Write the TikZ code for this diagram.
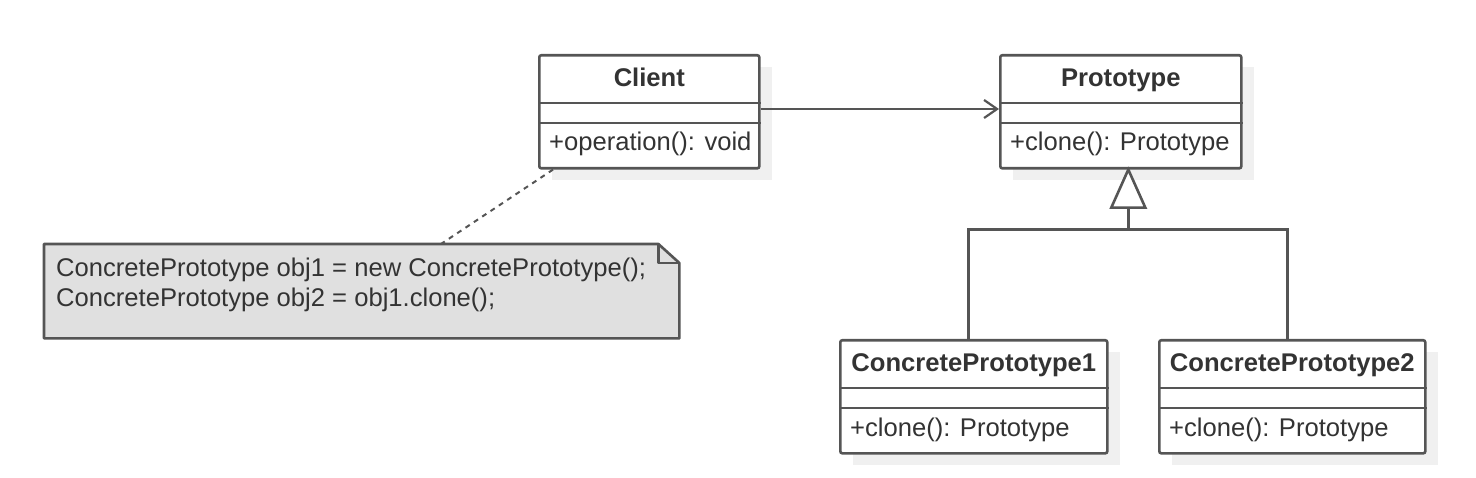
\documentclass[tikz,border=0pt]{standalone}
\usepackage{fontspec}
\setmainfont{Liberation Sans}
\usetikzlibrary{arrows.meta}
\definecolor{linec}{HTML}{555555}
\definecolor{textc}{HTML}{333333}
\definecolor{notec}{HTML}{E0E0E0}
\definecolor{shadowc}{HTML}{F0F0F0}
\tikzset{
  umlline/.style={draw=linec, line width=2.6pt},
  classbox/.style={umlline, fill=white, rounded corners=2pt, minimum height=113pt, inner sep=0pt, anchor=north west},
  titletext/.style={font=\fontsize{25.6}{30}\selectfont\bfseries, text=textc, inner sep=0pt, anchor=base},
  optext/.style={font=\fontsize{25.6}{30}\selectfont, text=textc, inner sep=0pt, anchor=base west},
  notetext/.style={font=\fontsize{25.6}{30}\selectfont, text=textc, inner sep=0pt, anchor=base west, align=left},
}
\newcommand\umlclass[6]{%
  \fill[shadowc] (#2+14,-#3-13) rectangle ++(#4,-113);
  \node[classbox, minimum width=#4 pt] (#1) at (#2,-#3) {};
  \draw[umlline] ([yshift=-49pt]#1.north west) -- ([yshift=-49pt]#1.north east);
  \draw[umlline] ([yshift=-69pt]#1.north west) -- ([yshift=-69pt]#1.north east);
  \node[titletext] (#1-t) at ([yshift=-33pt]#1.north) {#5};
  \node[optext] (#1-o) at ([xshift=11pt,yshift=-97pt]#1.north west) {#6};
}
\begin{document}
\begin{tikzpicture}[x=1pt,y=1pt]
\useasboundingbox (0,0) rectangle (1476,-478);
\umlclass{client}{538}{54}{220}{Client}{+operation(): void}
\umlclass{proto}{999}{54}{241}{Prototype}{+clone(): Prototype}
\umlclass{cp1}{839}{339}{267}{ConcretePrototype1}{+clone(): Prototype}
\umlclass{cp2}{1158}{339}{266}{ConcretePrototype2}{+clone(): Prototype}

% association
\draw[umlline, -{Straight Barb[length=13pt,width=18pt,line width=2.2pt]}]
  ([yshift=-55pt]client.north east) -- ([yshift=-55pt]proto.north west);

% generalization
\coordinate (gen) at ([xshift=7.5pt]proto.south);
\coordinate (tb) at ([yshift=-38pt]gen);
\coordinate (bar) at ([yshift=-60pt]gen);
\draw[umlline] (tb) -- (bar);
\draw[umlline] ([xshift=-5.5pt]cp1.north) |- (bar) -| ([xshift=-5pt]cp2.north);
\draw[umlline, fill=white, line join=miter] (gen) -- ([xshift=-17pt]tb) -- ([xshift=17pt]tb) -- cycle;

% note
\node[minimum width=635pt, minimum height=94pt, inner sep=0pt, anchor=north west] (note) at (44,-244) {};
\filldraw[umlline, fill=notec, line join=round]
  (note.north west) -- ([xshift=-21pt]note.north east) -- ([yshift=-19pt]note.north east)
  -- (note.south east) -- (note.south west) -- cycle;
\draw[umlline, line join=round] ([xshift=-21pt]note.north east) -- ([xshift=-21pt,yshift=-19pt]note.north east) -- ([yshift=-19pt]note.north east);
\node[notetext] (notet) at (56,-307) {ConcretePrototype obj1 = new ConcretePrototype();\\ConcretePrototype obj2 = obj1.clone();};

% note link
\draw[draw=linec, line width=2pt, dash pattern=on 5pt off 5pt] ([xshift=15pt]client.south west) -- ([xshift=397pt]note.north west);
\end{tikzpicture}
\end{document}
